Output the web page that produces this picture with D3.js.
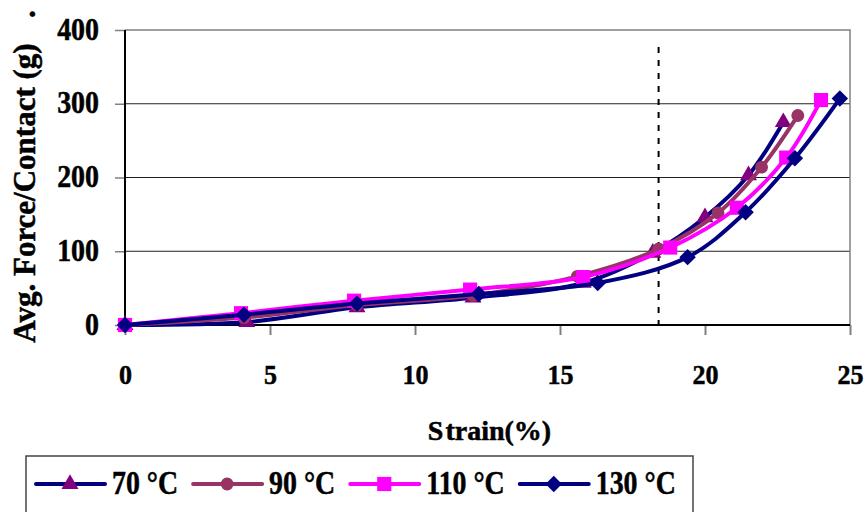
<!DOCTYPE html>
<html lang="en">
<head>
<meta charset="UTF-8">
<title>Force vs strain</title>
<script src="https://d3js.org/d3.v7.min.js"></script>
<style>
  body{margin:0;background:#fff;}
  svg text{font-family:"Times New Roman","Liberation Serif",serif;font-weight:bold;fill:#000;stroke:#000;stroke-width:0.5px;}
</style>
</head>
<body>
<script>
// values
var strain70 = [0, 4.2, 8.0, 12.0, 15.8, 18.2, 20.0, 21.5, 22.7];
var force70  = [0, 4, 24, 37, 57, 98, 146, 203, 275];
var strain90 = [0, 4.1, 8.0, 12.0, 15.6, 18.4, 20.45, 21.95, 23.2];
var force90  = [0, 10, 27, 40, 66, 103, 152, 214, 284];
var strain110 = [0, 4.0, 7.9, 11.9, 15.8, 18.8, 21.1, 22.8, 24.0];
var force110  = [0, 16, 33, 48, 65, 105, 159, 227, 305];
var strain130 = [0, 4.1, 8.0, 12.2, 16.3, 19.4, 21.4, 23.1, 24.65];
var force130  = [0, 14, 29, 42, 57, 92, 153, 226, 307];

var seriesNames = ["70 °C", "90 °C", "110 °C", "130 °C"];
var xTicks = [0, 5, 10, 15, 20, 25];
var yTicks = [0, 100, 200, 300, 400];
var dashStrain = 18.4;

var width = 867, height = 512;

var series = [
  {name: seriesNames[0], xs: strain70,  ys: force70,  line: "#000080", fill: "#800080", shape: "tri"},
  {name: seriesNames[1], xs: strain90,  ys: force90,  line: "#993366", fill: "#993366", shape: "circle"},
  {name: seriesNames[2], xs: strain110, ys: force110, line: "#ff00ff", fill: "#ff00ff", shape: "square"},
  {name: seriesNames[3], xs: strain130, ys: force130, line: "#000080", fill: "#000080", shape: "diamond"}
];

var svg = d3.select("body").append("svg")
    .attr("width", width).attr("height", height)
    .style("display", "block");
svg.append("rect").attr("width", width).attr("height", height).attr("fill", "#fff");

var x = d3.scaleLinear().domain([0, 25]).range([125, 850]);
var y = d3.scaleLinear().domain([0, 400]).range([325, 30]);

// grid
svg.append("g").selectAll("line")
  .data(yTicks.filter(function(d){ return d > 0 && d < 400; }))
  .enter().append("line")
  .attr("x1", x(0)).attr("x2", x(25))
  .attr("y1", function(d){ return y(d); }).attr("y2", function(d){ return y(d); })
  .attr("stroke", "#222").attr("stroke-width", 1);

// plot border (top / right)
svg.append("path")
  .attr("d", "M" + x(0) + "," + y(400) + "H" + x(25) + "V" + y(0))
  .attr("fill", "none").attr("stroke", "#808080").attr("stroke-width", 1.5);

// axes
var yAxis = svg.append("g").attr("transform", "translate(" + x(0) + ",0)")
  .call(d3.axisLeft(y).tickValues(yTicks).tickSize(10).tickFormat(d3.format("d")));
yAxis.select(".domain").remove();
yAxis.selectAll(".tick line").attr("stroke", "#808080").attr("stroke-width", 1.5);
yAxis.selectAll("text")
  .attr("x", 0).attr("dy", null).attr("y", 9)
  .attr("transform", "translate(-26,0) scale(0.9,1)")
  .style("font-size", "31px");

var xAxis = svg.append("g").attr("transform", "translate(0," + y(0) + ")")
  .call(d3.axisBottom(x).tickValues(xTicks).tickSize(10).tickFormat(d3.format("d")));
xAxis.select(".domain").remove();
xAxis.selectAll(".tick line").attr("stroke", "#808080").attr("stroke-width", 2);
xAxis.selectAll("text")
  .attr("y", 0).attr("dy", null)
  .attr("transform", "translate(0,59) scale(0.93,1)")
  .style("font-size", "28px");

svg.append("line").attr("x1", x(0)).attr("x2", x(0)).attr("y1", y(400)).attr("y2", y(0) + 1)
  .attr("stroke", "#000").attr("stroke-width", 2);
svg.append("line").attr("x1", x(0) - 1).attr("x2", x(25)).attr("y1", y(0)).attr("y2", y(0))
  .attr("stroke", "#000").attr("stroke-width", 2);

// dashed marker line
svg.append("line")
  .attr("x1", x(dashStrain)).attr("x2", x(dashStrain))
  .attr("y1", 47).attr("y2", 332)
  .attr("stroke", "#000").attr("stroke-width", 2)
  .attr("stroke-dasharray", "6,7");

function drawMarker(g, shape, cx, cy, fill) {
  if (shape === "diamond") {
    g.append("path").attr("d", d3.symbol(d3.symbolSquare, 135)())
      .attr("transform", "translate(" + cx + "," + cy + ") rotate(45)")
      .attr("fill", fill);
  } else {
    var t = {tri: [d3.symbolTriangle, 125], circle: [d3.symbolCircle, 130], square: [d3.symbolSquare, 200]}[shape];
    g.append("path").attr("d", d3.symbol(t[0], t[1])())
      .attr("transform", "translate(" + cx + "," + cy + ")")
      .attr("fill", fill);
  }
}

var lineGen = d3.line()
  .x(function(d){ return x(d[0]); })
  .y(function(d){ return y(d[1]); })
  .curve(d3.curveCatmullRom.alpha(0.5));

series.forEach(function(s) {
  var pts = s.xs.map(function(v, i){ return [v, s.ys[i]]; });
  var g = svg.append("g");
  g.append("path").datum(pts).attr("d", lineGen)
    .attr("fill", "none").attr("stroke", s.line).attr("stroke-width", 4)
    .attr("stroke-linejoin", "round");
  pts.forEach(function(p) { drawMarker(g, s.shape, x(p[0]), y(p[1]), s.fill); });
});

// axis titles
svg.append("text")
  .attr("x", (x(0) + x(25)) / 2 + 2).attr("y", 440)
  .attr("text-anchor", "middle").style("font-size", "28px")
  .text("S").append("tspan").attr("dx", 2).text("train(%)");

svg.append("text")
  .attr("transform", "translate(35,193) rotate(-90)")
  .attr("text-anchor", "middle").style("font-size", "31px")
  .text("Avg. Force/Contact (g)");
svg.append("text")
  .attr("transform", "translate(35,14) rotate(-90)")
  .attr("text-anchor", "middle").style("font-size", "31px")
  .text(".");

// legend
svg.append("rect").attr("x", 26).attr("y", 456).attr("width", 667).attr("height", 80)
  .attr("fill", "#fff").attr("stroke", "#444").attr("stroke-width", 1.5);
var lx = 36, ly = 484;
series.forEach(function(s) {
  var g = svg.append("g");
  g.append("line").attr("x1", lx).attr("x2", lx + 69).attr("y1", ly).attr("y2", ly)
    .attr("stroke", s.line).attr("stroke-width", 4).attr("stroke-linecap", "round");
  drawMarker(g, s.shape, lx + 34, ly, s.fill);
  var t = g.append("text")
    .attr("transform", "translate(" + (lx + 76) + ",494) scale(0.82,1)")
    .style("font-size", "34px").text(s.name);
  var w = t.node().getComputedTextLength() * 0.82;
  lx = lx + 76 + w + 15;
});
</script>
</body>
</html>
